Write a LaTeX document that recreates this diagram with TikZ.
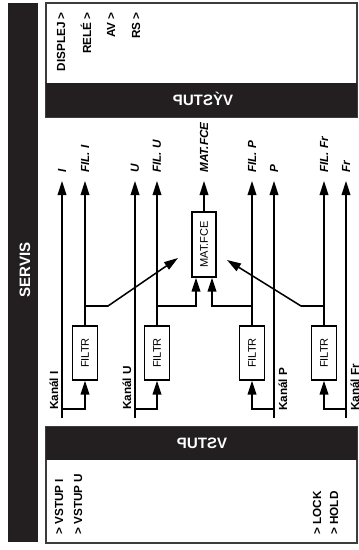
\documentclass[tikz,border=0pt]{standalone}
\usepackage{fontspec}
\setmainfont{Liberation Sans}
\usetikzlibrary{arrows.meta,positioning,calc}
\definecolor{servBlack}{HTML}{231F20}
\definecolor{servFrame}{HTML}{3C3C3C}

\begin{document}
\begin{tikzpicture}[x=0.75pt, y=-0.75pt,
        panel/.style={draw=servFrame, line width=1.4pt, fill=white},
        band/.style={fill=servBlack},
        header/.style={text=white, inner sep=0pt, font=\fontsize{11.3}{13}\selectfont\bfseries},
        vlabel/.style={rotate=90, inner sep=0pt, font=\fontsize{8.8}{10}\selectfont\bfseries},
        outlabel/.style={rotate=90, anchor=west, inner sep=0pt, inner xsep=6pt, font=\fontsize{8.8}{10}\selectfont\bfseries\itshape},
        blok/.style={draw, line width=1pt, rotate=90, inner sep=0pt, minimum width=40.5pt, minimum height=18.75pt, font=\fontsize{8.3}{10}\selectfont},
        arrow/.style={-{Triangle[length=10.5pt,width=6.5pt]}, line width=1.15pt}
    ]
        \useasboundingbox (0,0) rectangle (358,550);

        % servis bar
        \fill[band] (8,3) rectangle (38,542);
        \node[header, rotate=90] (servis) at (25,270) {SERVIS};

        % vystup
        \draw[panel] (46,3) rectangle (357,117);
        \fill[band] (46,83) rectangle (357,117);
        \node[header] (vystup) at (203,99) {\reflectbox{VÝSTUP}};
        \node[vlabel, anchor=east] (displej) at (61,12) {DISPLEJ >};
        \node[vlabel, anchor=east] (rele) at (86,12) {RELÉ >};
        \node[vlabel, anchor=east] (av) at (111,12) {AV >};
        \node[vlabel, anchor=east] (rs) at (136,12) {RS >};

        % vstup
        \draw[panel] (46,427) rectangle (357,543);
        \fill[band] (46,427) rectangle (357,460);
        \node[header] (vstup) at (202,443) {\reflectbox{VSTUP}};
        \node[vlabel, anchor=west] (vstupI) at (59,535) {> VSTUP I};
        \node[vlabel, anchor=west] (vstupU) at (78,535) {> VSTUP U};
        \node[vlabel, anchor=west] (lock) at (317,535) {> LOCK};
        \node[vlabel, anchor=west] (hold) at (334,535) {> HOLD};

        % bloky
        \node[blok] (filtrI) at (85,353) {FILTR};
        \node[blok] (filtrU) at (157,353) {FILTR};
        \node[blok] (filtrP) at (252,353) {FILTR};
        \node[blok] (filtrFr) at (324,353) {FILTR};
        \node[blok, minimum width=48.75pt, minimum height=18pt] (matfce) at (204,244.5) {MAT.FCE};

        % vystupni signaly
        \node[outlabel] (outI) at (62,181) {I};
        \node[outlabel] (outFilI) at (85,181) {FIL. I};
        \node[outlabel] (outU) at (135,181) {U};
        \node[outlabel] (outFilU) at (157,181) {FIL. U};
        \node[outlabel] (outMat) at (204,181) {MAT.FCE};
        \node[outlabel] (outFilP) at (252,181) {FIL. P};
        \node[outlabel] (outP) at (274,181) {P};
        \node[outlabel] (outFilFr) at (324,181) {FIL. Fr};
        \node[outlabel] (outFr) at (346,181) {Fr};

        % kanaly
        \node[vlabel, anchor=base west] (kanalI) at (58,410) {Kanál I};
        \node[vlabel, anchor=base west] (kanalU) at (131,410) {Kanál U};
        \node[vlabel, anchor=base west] (kanalP) at (287,411) {Kanál P};
        \node[vlabel, anchor=base west] (kanalFr) at (359,411) {Kanál Fr};

        \coordinate (kanI) at (62,418);
        \coordinate (kanU) at (135,418);
        \coordinate (kanP) at (274,418);
        \coordinate (kanFr) at (346,418);
        \coordinate (odbI) at (62,409);
        \coordinate (odbU) at (135,409);
        \coordinate (odbP) at (274,409);
        \coordinate (odbFr) at (346,409);
        \coordinate (tapI) at (85,306);
        \coordinate (tapU) at (157,306);
        \coordinate (tapP) at (252,306);
        \coordinate (tapFr) at (324,306);
        \coordinate (knickI) at (108,306);
        \coordinate (knickFr) at (301,306);
        \coordinate (hrotI) at (178,258);
        \coordinate (hrotFr) at (227,260);

        \draw[arrow] (kanI) -- (outI);
        \draw[arrow] (kanU) -- (outU);
        \draw[arrow] (kanP) -- (outP);
        \draw[arrow] (kanFr) -- (outFr);

        \draw[arrow] (odbI) -| (filtrI);
        \draw[arrow] (odbU) -| (filtrU);
        \draw[arrow] (odbP) -| (filtrP);
        \draw[arrow] (odbFr) -| (filtrFr);

        \draw[arrow] (filtrI) -- (outFilI);
        \draw[arrow] (filtrU) -- (outFilU);
        \draw[arrow] (filtrP) -- (outFilP);
        \draw[arrow] (filtrFr) -- (outFilFr);
        \draw[arrow] (matfce) -- (outMat);

        \draw[arrow] (tapU) -| ($(matfce.west)+(-8,0)$);
        \draw[arrow] (tapP) -| ($(matfce.west)+(8,0)$);
        \draw[arrow] (tapI) -- (knickI) -- (hrotI);
        \draw[arrow] (tapFr) -- (knickFr) -- (hrotFr);
    \end{tikzpicture}
\end{document}
